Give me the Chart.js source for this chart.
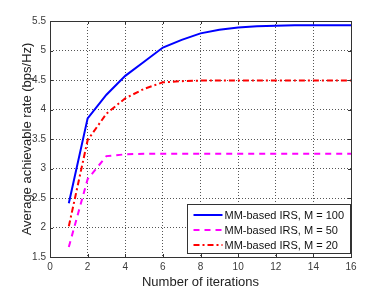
<!DOCTYPE html>
<html>
<head>
<meta charset="utf-8">
<script src="https://cdn.jsdelivr.net/npm/chart.js@4"></script>
<style>
  body { margin: 0; background: #fff; }
  #wrap { width: 388px; height: 294px; }
</style>
</head>
<body>
<div id="wrap"><canvas id="chart" width="388" height="294"></canvas></div>
<script>
// data
const iterations = [1, 2, 3, 4, 5, 6, 7, 8, 9, 10, 11, 12, 13, 14, 15, 16];
const seriesNames = ['MM-based IRS, M = 100', 'MM-based IRS, M = 50', 'MM-based IRS, M = 20'];
const rateM100 = [2.41, 3.85, 4.25, 4.57, 4.81, 5.05, 5.18, 5.29, 5.35, 5.39, 5.41, 5.42, 5.43, 5.43, 5.43, 5.43];
const rateM50 = [1.67, 2.82, 3.21, 3.24, 3.25, 3.25, 3.25, 3.25, 3.25, 3.25, 3.25, 3.25, 3.25, 3.25, 3.25, 3.25];
const rateM20 = [2.02, 3.48, 3.93, 4.19, 4.35, 4.46, 4.48, 4.49, 4.49, 4.49, 4.49, 4.49, 4.49, 4.49, 4.49, 4.49];
const xTicks = [0, 2, 4, 6, 8, 10, 12, 14, 16];
const yTicks = [1.5, 2, 2.5, 3, 3.5, 4, 4.5, 5, 5.5];

function points(vals) {
  return iterations.map((it, i) => ({x: it, y: vals[i]}));
}

// box, inward ticks and legend like matlab
const framePlugin = {
  id: 'frame',
  afterDraw(chart) {
    const ctx = chart.ctx;
    const a = chart.chartArea;
    const sx = chart.scales.x, sy = chart.scales.y;
    ctx.save();
    ctx.strokeStyle = '#333';
    ctx.lineWidth = 1;
    ctx.setLineDash([]);
    ctx.beginPath();
    xTicks.forEach(v => {
      const px = Math.round(sx.getPixelForValue(v)) + 0.5;
      ctx.moveTo(px, a.bottom); ctx.lineTo(px, a.bottom - 3);
      ctx.moveTo(px, a.top); ctx.lineTo(px, a.top + 3);
    });
    yTicks.forEach(v => {
      const py = Math.round(sy.getPixelForValue(v)) + 0.5;
      ctx.moveTo(a.left, py); ctx.lineTo(a.left + 3, py);
      ctx.moveTo(a.right, py); ctx.lineTo(a.right - 3, py);
    });
    ctx.stroke();
    ctx.strokeRect(Math.round(a.left) + 0.5, Math.round(a.top) + 0.5,
      Math.round(a.right - a.left), Math.round(a.bottom - a.top));

    // legend
    const w = 163, h = 49;
    const x0 = Math.round(a.right) - 1 - w + 0.5;
    const y0 = Math.round(a.bottom) - 4 - h + 0.5;
    ctx.fillStyle = '#fff';
    ctx.fillRect(x0, y0, w, h);
    ctx.strokeStyle = '#333';
    ctx.strokeRect(x0, y0, w, h);
    ctx.font = '11px "Liberation Sans", Arial, sans-serif';
    ctx.textBaseline = 'middle';
    chart.data.datasets.forEach((ds, i) => {
      const y = Math.round(y0 + 10 + i * 15);
      ctx.beginPath();
      ctx.strokeStyle = ds.borderColor;
      ctx.lineWidth = 2;
      ctx.setLineDash(ds.borderDash || []);
      ctx.moveTo(x0 + 6, y);
      ctx.lineTo(x0 + 35, y);
      ctx.stroke();
      ctx.fillStyle = '#111';
      ctx.fillText(ds.label, x0 + 37, y + 1);
    });
    ctx.restore();
  }
};

new Chart(document.getElementById('chart'), {
  type: 'line',
  data: {
    datasets: [{
      label: seriesNames[0],
      data: points(rateM100),
      borderColor: '#0000ff',
      borderWidth: 2,
      borderDash: []
    }, {
      label: seriesNames[1],
      data: points(rateM50),
      borderColor: '#ff00ff',
      borderWidth: 2,
      borderDash: [6, 5]
    }, {
      label: seriesNames[2],
      data: points(rateM20),
      borderColor: '#ff0000',
      borderWidth: 2,
      borderDash: [6, 3, 2, 3]
    }]
  },
  options: {
    responsive: false,
    animation: false,
    devicePixelRatio: 1,
    layout: { padding: { left: 0, top: 21, right: 37, bottom: 0 } },
    elements: {
      point: { radius: 0 },
      line: { tension: 0, fill: false }
    },
    plugins: {
      legend: { display: false },
      tooltip: { enabled: false }
    },
    scales: {
      x: {
        type: 'linear',
        min: 0, max: 16,
        afterFit: s => { s.height = 37; },
        afterBuildTicks: s => { s.ticks = xTicks.map(v => ({value: v})); },
        ticks: {
          padding: 4,
          maxRotation: 0,
          color: '#3a3a3a',
          font: { family: '"Liberation Sans", Arial, sans-serif', size: 10 },
          callback: v => String(v)
        },
        grid: { color: '#555', drawTicks: false },
        border: { display: false, dash: [1, 2] },
        title: {
          display: true,
          text: 'Number of iterations',
          color: '#222',
          padding: { top: 0, bottom: 4 },
          font: { family: '"Liberation Sans", Arial, sans-serif', size: 13 }
        }
      },
      y: {
        type: 'linear',
        min: 1.5, max: 5.5,
        afterFit: s => { s.width = 50; },
        afterBuildTicks: s => { s.ticks = yTicks.map(v => ({value: v})); },
        ticks: {
          padding: 4,
          color: '#3a3a3a',
          font: { family: '"Liberation Sans", Arial, sans-serif', size: 10 },
          callback: v => String(v)
        },
        grid: { color: '#555', drawTicks: false },
        border: { display: false, dash: [1, 2] },
        title: {
          display: true,
          text: 'Average achievable rate (bps/Hz)',
          color: '#222',
          padding: { top: 20, bottom: 0 },
          font: { family: '"Liberation Sans", Arial, sans-serif', size: 13 }
        }
      }
    }
  },
  plugins: [framePlugin]
});
</script>
</body>
</html>
